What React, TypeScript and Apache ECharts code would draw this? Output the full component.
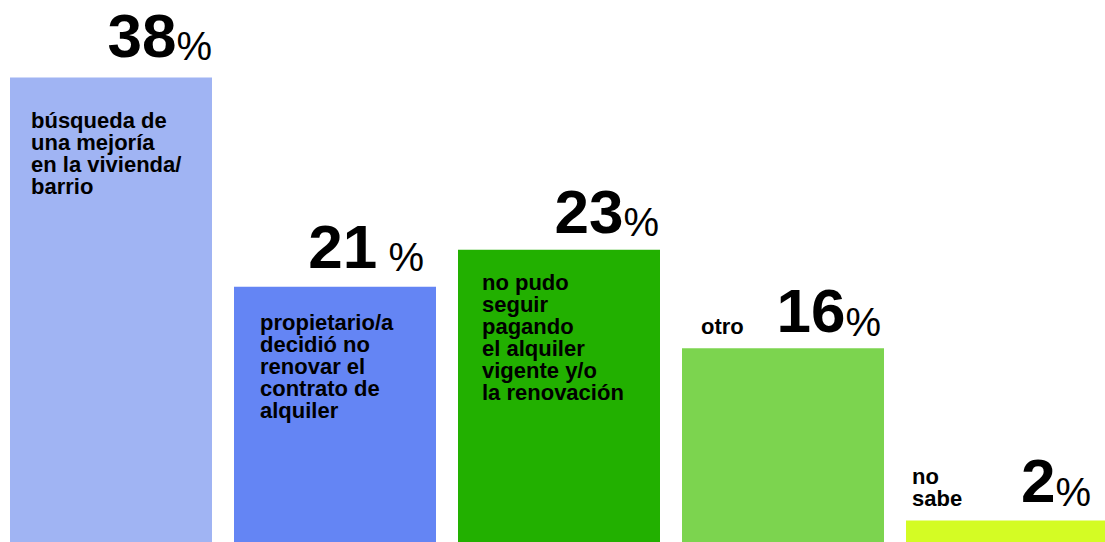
import React, { useEffect, useRef } from "react";
import * as echarts from "echarts";

const categories = [
  "búsqueda de\nuna mejoría\nen la vivienda/\nbarrio",
  "propietario/a\ndecidió no\nrenovar el\ncontrato de\nalquiler",
  "no pudo\nseguir\npagando\nel alquiler\nvigente y/o\nla renovación",
  "otro",
  "no\nsabe",
];
const barValues = [38, 21, 24, 16, 2];
const pctNumbers = ["38", "21", "23", "16", "2"];
const pctSigns = ["%", " %", "%", "%", "%"];

const colors = ["#A0B4F3", "#6485F4", "#22B000", "#7CD44F", "#D4FC24"];
const numberOffsets = [
  [202, -11.5],
  [190, -9.5],
  [201, -7.5],
  [199, -6.5],
  [185, -8.5],
];
const textOffsets = [
  [21, 32],
  [26, 25],
  [24, 22],
  [19, -33],
  [6, -55],
];

const FONT = '"Liberation Sans", Arial, Helvetica, sans-serif';

export default function App() {
  const ref = useRef<HTMLDivElement>(null);
  useEffect(() => {
    if (!ref.current) return;
    const chart = echarts.init(ref.current, null, { renderer: "svg" });
    chart.setOption({
      animation: false,
      grid: { left: 0, right: 0, top: 53, bottom: 0, containLabel: false },
      xAxis: { type: "category", data: categories, show: false },
      yAxis: { type: "value", min: 0, max: 40, show: false, splitLine: { show: false } },
      series: [
        {
          type: "bar",
          barWidth: 202,
          silent: true,
          data: barValues.map((v, i) => ({
            value: v,
            itemStyle: { color: colors[i] },
            label: { position: numberOffsets[i] },
          })),
          label: {
            show: true,
            align: "right",
            verticalAlign: "bottom",
            formatter: (p: any) => `{n|${pctNumbers[p.dataIndex]}}{p|${pctSigns[p.dataIndex]}}`,
            rich: {
              n: {
                fontFamily: FONT,
                fontSize: 62,
                fontWeight: "bold",
                lineHeight: 62,
                verticalAlign: "bottom",
                color: "#000",
              },
              p: {
                fontFamily: FONT,
                fontSize: 40,
                fontWeight: "normal",
                lineHeight: 47,
                verticalAlign: "bottom",
                color: "#000",
              },
            },
          },
        },
        {
          type: "bar",
          barWidth: 202,
          barGap: "-100%",
          silent: true,
          data: barValues.map((v, i) => ({
            value: v,
            label: { position: textOffsets[i] },
          })),
          itemStyle: { color: "rgba(0,0,0,0)" },
          label: {
            show: true,
            align: "left",
            verticalAlign: "top",
            formatter: (p: any) => categories[p.dataIndex],
            fontFamily: FONT,
            fontSize: 22,
            fontWeight: "bold",
            lineHeight: 22,
            color: "#000",
          },
        },
      ],
    });
    return () => chart.dispose();
  }, []);
  return (
    <div
      style={{
        position: "absolute",
        left: 0,
        top: 0,
        width: 1105,
        height: 542,
        overflow: "hidden",
      }}
    >
      <div
        ref={ref}
        style={{ position: "absolute", left: -1, top: 0, width: 1120, height: 545 }}
      />
    </div>
  );
}
